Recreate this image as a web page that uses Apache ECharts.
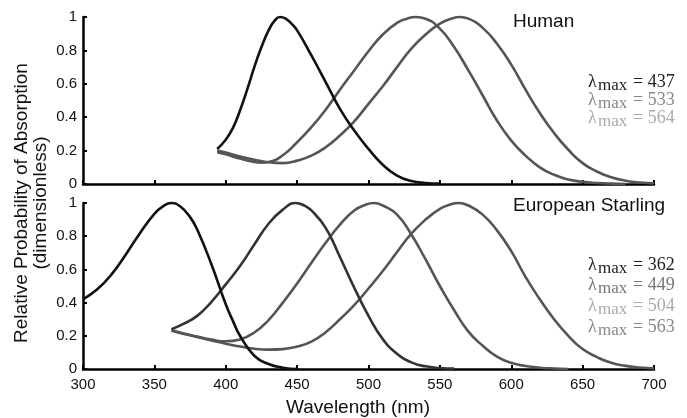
<!DOCTYPE html>
<html><head><meta charset="utf-8">
<script src="https://cdn.jsdelivr.net/npm/echarts@6/dist/echarts.min.js"></script>
<style>html,body{margin:0;padding:0;background:#fff}#c{width:687px;height:418px}</style>
</head><body><div id="c"></div>
<script>
// ---- Data (wavelength nm, relative absorption) ----
const xTicks = [300, 350, 400, 450, 500, 550, 600, 650, 700];
const yTicks = [0, 0.2, 0.4, 0.6, 0.8, 1];

// Human
const h437_nm = [394,400,405,410,415,420,425,430,434,438,442,446,450,460,470,480,490,500,510,520,530,540,550];
const h437    = [0.21,0.265,0.335,0.44,0.565,0.70,0.82,0.92,0.975,1.0,0.99,0.96,0.92,0.77,0.61,0.45,0.32,0.21,0.115,0.05,0.018,0.006,0.002];
const h533_nm = [394,400,410,420,425,430,440,450,460,470,480,490,500,510,520,527,533,540,550,560,570,580,590,600,610,620,630,640,650,660,670,680];
const h533    = [0.19,0.178,0.152,0.132,0.128,0.132,0.172,0.25,0.34,0.445,0.565,0.68,0.795,0.895,0.965,0.99,1.0,0.99,0.93,0.82,0.68,0.53,0.38,0.26,0.17,0.10,0.055,0.027,0.013,0.006,0.002,0.0];
const h564_nm = [394,400,410,420,430,440,450,460,470,480,490,500,510,520,530,540,550,558,564,570,580,590,600,610,620,630,640,650,660,670,680,690,700];
const h564    = [0.2,0.188,0.165,0.145,0.13,0.125,0.14,0.17,0.22,0.29,0.375,0.48,0.585,0.70,0.81,0.895,0.96,0.99,1.0,0.99,0.935,0.84,0.715,0.565,0.425,0.305,0.205,0.125,0.075,0.04,0.02,0.009,0.004];

// European Starling
const s362_nm = [300,310,320,330,340,350,356,362,368,375,380,390,400,405,410,420,430,440,450];
const s362    = [0.42,0.48,0.57,0.69,0.82,0.935,0.98,1.0,0.98,0.915,0.84,0.63,0.39,0.29,0.2,0.08,0.03,0.008,0.0];
const s449_nm = [362,370,380,390,400,410,420,430,440,449,455,460,470,480,490,500,510,520,530,540,550,560];
const s449    = [0.24,0.27,0.32,0.405,0.51,0.62,0.75,0.875,0.96,1.0,0.985,0.955,0.85,0.675,0.49,0.32,0.18,0.092,0.04,0.016,0.006,0.002];
const s504_nm = [362,370,380,390,400,410,420,430,440,450,460,470,480,490,498,504,510,520,530,540,550,560,570,580,590,600,610,620,630,640];
const s504    = [0.235,0.215,0.195,0.177,0.167,0.178,0.22,0.295,0.40,0.515,0.64,0.76,0.87,0.955,0.99,1.0,0.985,0.93,0.81,0.66,0.50,0.354,0.225,0.14,0.075,0.037,0.018,0.008,0.003,0.0];
const s563_nm = [362,370,380,390,400,410,420,430,440,450,460,470,480,490,500,510,520,530,540,550,557,563,570,580,590,600,610,620,630,640,650,660,670,680,690,700];
const s563    = [0.23,0.213,0.193,0.172,0.152,0.135,0.122,0.117,0.12,0.135,0.165,0.222,0.30,0.385,0.485,0.59,0.705,0.815,0.90,0.965,0.99,1.0,0.985,0.93,0.835,0.71,0.555,0.42,0.30,0.20,0.12,0.072,0.037,0.019,0.009,0.004];

const panelTitles = ['Human', 'European Starling'];
const humanLambda = ['437', '533', '564'];
const starlingLambda = ['362', '449', '504', '563'];
const xName = 'Wavelength (nm)';
const yName1 = 'Relative Probability of Absorption';
const yName2 = '(dimensionless)';

// ---- Styles ----
const humanColors = ['#111', '#555', '#555'];
const starlingColors = ['#111', '#333', '#555', '#555'];
const humanLabelColors = ['#222', '#888', '#aaa'];
const starlingLabelColors = ['#222', '#777', '#aaa', '#888'];
const SANS = '"Liberation Sans", Arial, Helvetica, sans-serif';
const SERIF = '"Liberation Serif", "Times New Roman", serif';

function zip(a, b) { return a.map((v, i) => [v, b[i]]); }

const chart = echarts.init(document.getElementById('c'));

function xAxis(gi, showLabel) {
  return {
    type: 'value', gridIndex: gi, min: xTicks[0], max: xTicks[xTicks.length - 1], interval: 50,
    axisLine: { show: true, onZero: false, lineStyle: { color: '#000', width: 2.5 } },
    axisTick: { show: true, inside: true, length: 4, lineStyle: { color: '#000', width: 2 } },
    axisLabel: { show: showLabel, color: '#111', fontSize: 15, fontFamily: SANS, margin: 8 },
    splitLine: { show: false }
  };
}
function yAxis(gi) {
  return {
    type: 'value', gridIndex: gi, min: yTicks[0], max: yTicks[yTicks.length - 1], interval: 0.2,
    axisLine: { show: true, onZero: false, lineStyle: { color: '#000', width: 2.5 } },
    axisTick: { show: true, inside: true, length: 4, lineStyle: { color: '#000', width: 2 } },
    axisLabel: { color: '#111', fontSize: 15, fontFamily: SANS, margin: 6 },
    splitLine: { show: false }
  };
}
function line(name, nm, v, gi, color) {
  return {
    name: name, type: 'line', xAxisIndex: gi, yAxisIndex: gi, data: zip(nm, v),
    showSymbol: false, smooth: 0.5, clip: false,
    lineStyle: { color: color, width: 2.6 }, emphasis: { disabled: true }
  };
}

const graphics = [];
function lambdaLines(vals, colors, x, ys) {
  vals.forEach((v, i) => {
    const c = colors[i], y = ys[i];
    graphics.push({ type: 'text', left: x, top: y - 10, style: { text: 'λ', fill: c, font: '18px ' + SERIF } });
    graphics.push({ type: 'text', left: x + 10, top: y - 6, style: { text: 'max', fill: c, font: '17px ' + SERIF } });
    graphics.push({ type: 'text', left: x + 45, top: y - 10, style: { text: '= ' + v, fill: c, font: '18px ' + SERIF } });
  });
}
lambdaLines(humanLambda, humanLabelColors, 588, [83, 101, 119]);
lambdaLines(starlingLambda, starlingLabelColors, 588, [266, 286, 307, 328]);

graphics.push({ type: 'text', left: 513, top: 12, style: { text: panelTitles[0], fill: '#111', font: '19px ' + SANS } });
graphics.push({ type: 'text', left: 513, top: 196, style: { text: panelTitles[1], fill: '#111', font: '19px ' + SANS } });
graphics.push({ type: 'text', x: 22, y: 203, rotation: Math.PI / 2,
  style: { text: yName1, fill: '#111', font: '19px ' + SANS, align: 'center', verticalAlign: 'middle' } });
graphics.push({ type: 'text', x: 41, y: 203, rotation: Math.PI / 2,
  style: { text: yName2, fill: '#111', font: '19px ' + SANS, align: 'center', verticalAlign: 'middle' } });
graphics.push({ type: 'text', x: 358, y: 408,
  style: { text: xName, fill: '#111', font: '19px ' + SANS, align: 'center', verticalAlign: 'middle' } });

chart.setOption({
  animation: false,
  backgroundColor: '#fff',
  grid: [
    { left: 83, top: 17, width: 571, height: 167 },
    { left: 83, top: 203, width: 571, height: 166 }
  ],
  xAxis: [xAxis(0, false), xAxis(1, true)],
  yAxis: [yAxis(0), yAxis(1)],
  series: [
    line('564', h564_nm, h564, 0, humanColors[2]),
    line('533', h533_nm, h533, 0, humanColors[1]),
    line('437', h437_nm, h437, 0, humanColors[0]),
    line('563', s563_nm, s563, 1, starlingColors[3]),
    line('504', s504_nm, s504, 1, starlingColors[2]),
    line('449', s449_nm, s449, 1, starlingColors[1]),
    line('362', s362_nm, s362, 1, starlingColors[0])
  ],
  graphic: graphics
});
</script>
</body></html>
